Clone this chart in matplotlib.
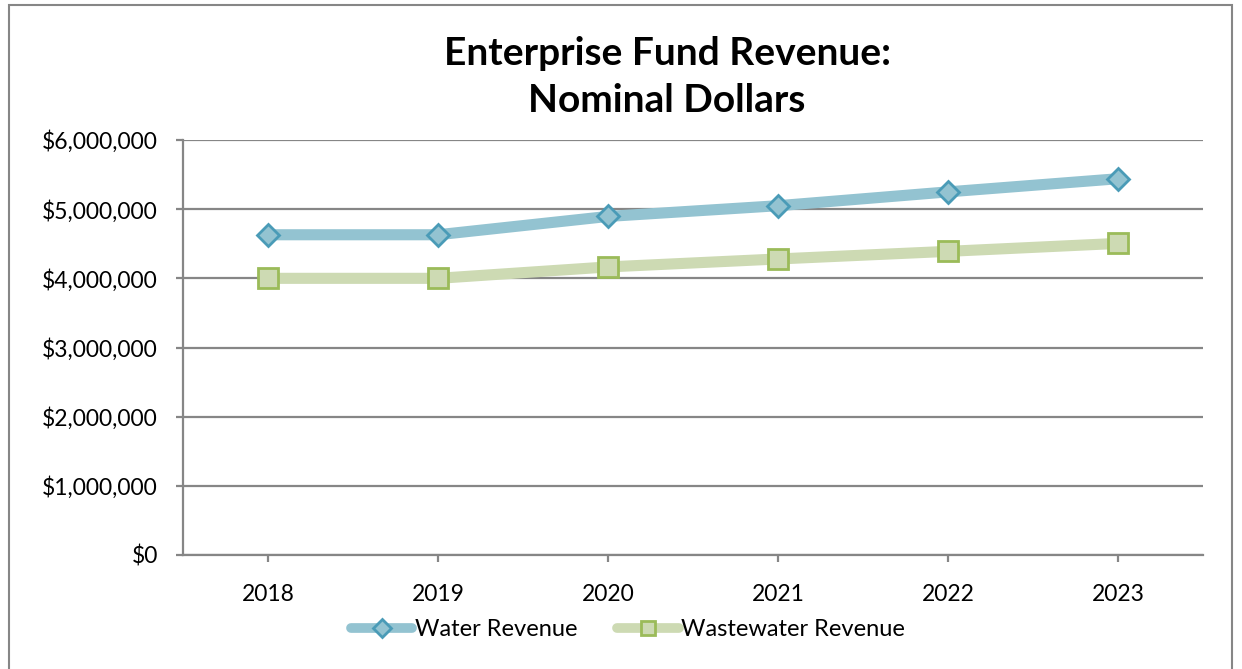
import matplotlib
matplotlib.use("Agg")
import matplotlib.pyplot as plt
from matplotlib.patches import Rectangle
from matplotlib.lines import Line2D
from matplotlib.ticker import FuncFormatter

years = ["2018", "2019", "2020", "2021", "2022", "2023"]
water = [4630000, 4630000, 4895000, 5050000, 5250000, 5440000]
wastewater = [4000000, 4000000, 4165000, 4280000, 4390000, 4505000]

plt.rcParams["font.family"] = ["Lato", "DejaVu Sans"]

W, H = 1242, 669
fig = plt.figure(figsize=(W / 100, H / 100), dpi=100)
ax = fig.add_axes([183 / W, 1 - 555 / H, (1203 - 183) / W, (555 - 140) / H])

grey = "#868686"
blue, blue_edge = "#93C3D1", "#4A9BB7"
green, green_edge = "#CDDAB3", "#9BBB59"
x = list(range(len(years)))

ax.plot(x, water, color=blue, lw=8, solid_capstyle="round",
        marker="D", ms=11.5, mfc=blue, mec=blue_edge, mew=2)
ax.plot(x, wastewater, color=green, lw=8, solid_capstyle="round",
        marker="s", ms=15, mfc=green, mec=green_edge, mew=2)

ax.set_xlim(-0.5, 5.5)
ax.set_ylim(0, 6000000)
ax.set_xticks(x)
ax.set_xticklabels(years)
ax.set_yticks(range(0, 6000001, 1000000))
ax.yaxis.set_major_formatter(FuncFormatter(lambda v, p: f"${v:,.0f}"))
ax.grid(axis="y", color=grey, lw=1.6)
ax.set_axisbelow(True)

for s in ["top", "right"]:
    ax.spines[s].set_visible(False)
for s in ["left", "bottom"]:
    ax.spines[s].set_color(grey)
    ax.spines[s].set_linewidth(1.6)
ax.tick_params(axis="both", colors=grey, width=1.6, length=5, labelsize=16.5, labelcolor="black")
ax.tick_params(axis="x", pad=16)
ax.tick_params(axis="y", pad=13)

fig.text(667 / W, 1 - 77 / H, "Enterprise Fund Revenue:\nNominal Dollars", ha="center", va="center",
         fontsize=28, fontweight="bold", linespacing=1.4)

handles = [
    Line2D([], [], color=blue, lw=7, solid_capstyle="round", marker="D", ms=9,
           mfc=blue, mec=blue_edge, mew=2),
    Line2D([], [], color=green, lw=7, solid_capstyle="round", marker="s", ms=10,
           mfc=green, mec=green_edge, mew=2),
]
fig.legend(handles, ["Water Revenue", "Wastewater Revenue"], loc="center",
           bbox_to_anchor=(628 / W, 1 - 630 / H), ncol=2, frameon=False,
           fontsize=17, handlelength=2.6, handletextpad=0.1, columnspacing=1.7)

fig.patches.append(Rectangle((9 / W, -0.01), (1232 - 9) / W, 1 - 5 / H + 0.01,
                             transform=fig.transFigure, fill=False, edgecolor=grey, lw=1.5))

fig.savefig("out.png", dpi=100)
